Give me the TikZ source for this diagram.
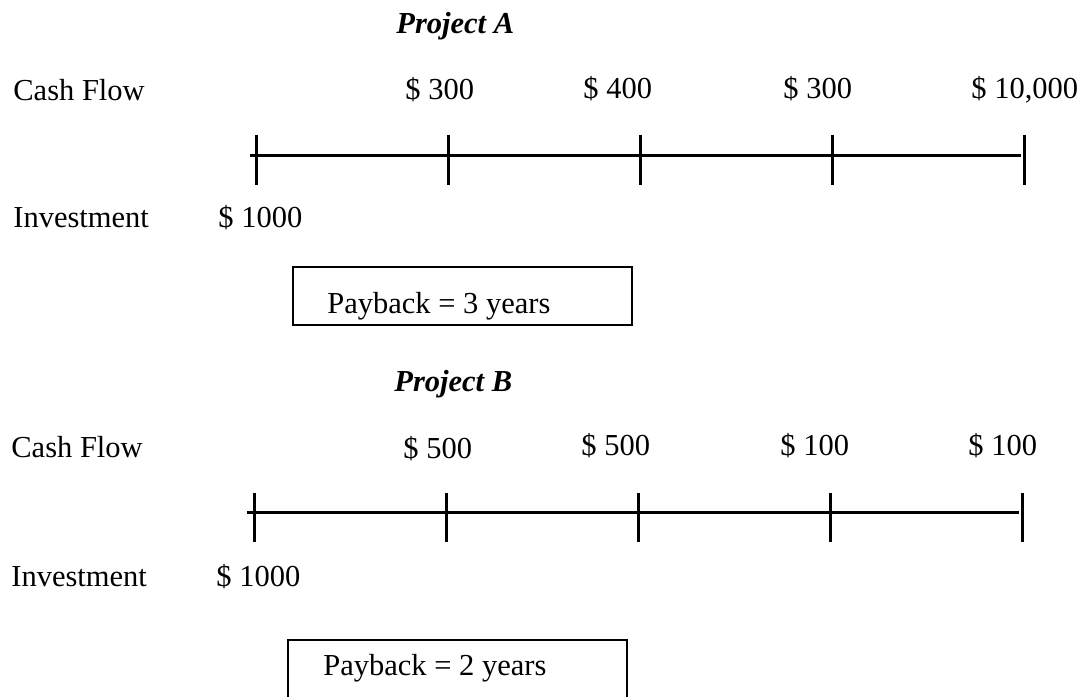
\documentclass[tikz,border=0pt]{standalone}
\usepackage{fontspec}
\setmainfont{Liberation Serif}
\usepackage{tikz}

\tikzset{
  lbl/.style={anchor=base west, inner sep=0pt, font=\fontsize{15.25}{18}\selectfont},
  ttl/.style={lbl, font=\fontsize{15.25}{18}\selectfont\bfseries\itshape},
  axis/.style={line width=1.5pt},
  paybox/.style={line width=1.2pt}
}

\begin{document}
\begin{tikzpicture}[x=0.5pt, y=-0.5pt]
			%%%%% START %%%%%
			\useasboundingbox (0,0) rectangle (1086,696);
			
			% Project A
			\node[ttl] (titleA) at (396,33) {Project A};
			\node[lbl] (cashA) at (13,100) {Cash Flow};
			\node[lbl] (flowA1) at (405,99) {\$ 300};
			\node[lbl] (flowA2) at (583,98) {\$ 400};
			\node[lbl] (flowA3) at (783,98) {\$ 300};
			\node[lbl] (flowA4) at (971,98) {\$ 10,000};
			
			\draw[axis] (250,155) -- (1021,155);
			\foreach \x in {256,448,640,832,1024}
				\draw[axis] (\x,135) -- (\x,185);
			
			\node[lbl] (invA) at (13,227) {Investment};
			\node[lbl] (costA) at (218,227) {\$ 1000};
			
			\draw[paybox] (293,267) rectangle (632,325);
			\node[lbl] (payA) at (327,313) {Payback = 3 years};
			
			% Project B
			\node[ttl] (titleB) at (394,391) {Project B};
			\node[lbl] (cashB) at (11,457) {Cash Flow};
			\node[lbl] (flowB1) at (403,458) {\$ 500};
			\node[lbl] (flowB2) at (581,455) {\$ 500};
			\node[lbl] (flowB3) at (780,455) {\$ 100};
			\node[lbl] (flowB4) at (968,455) {\$ 100};
			
			\draw[axis] (247,512) -- (1019,512);
			\foreach \x in {254,446,638,830,1022}
				\draw[axis] (\x,493) -- (\x,542);
			
			\node[lbl] (invB) at (11,586) {Investment};
			\node[lbl] (costB) at (216,586) {\$ 1000};
			
			\draw[paybox] (288,640) rectangle (627,699);
			\node[lbl] (payB) at (323,675) {Payback = 2 years};
			%%%%% END %%%%%
\end{tikzpicture}
\end{document}
